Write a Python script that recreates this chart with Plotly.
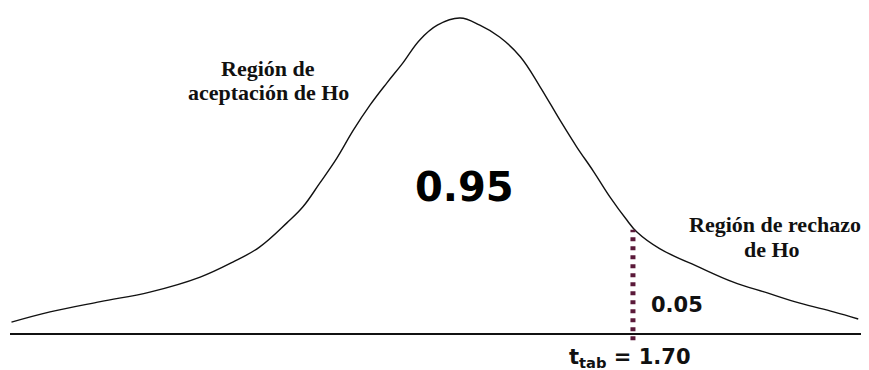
import plotly.graph_objects as go

# curve: t value and height of the density
t_vals = [-4.59, -4.20, -3.69, -3.19, -2.68, -2.35, -2.08, -1.80, -1.64, -1.47,
          -1.30, -1.13, -0.96, -0.79, -0.63, -0.46, -0.28, -0.05, 0.15, 0.35,
          0.56, 0.76, 0.96, 1.13, 1.30, 1.47, 1.64, 1.74, 1.97, 2.38,
          2.71, 3.06, 3.39, 3.73, 3.98]
dens = [0.015, 0.028, 0.041, 0.053, 0.072, 0.091, 0.110, 0.141, 0.161, 0.191,
        0.222, 0.258, 0.290, 0.318, 0.343, 0.372, 0.391, 0.400, 0.391, 0.376,
        0.351, 0.313, 0.271, 0.237, 0.206, 0.173, 0.144, 0.129, 0.108, 0.084,
        0.066, 0.052, 0.039, 0.028, 0.019]

t_crit = 1.70
d_crit = 0.132          # curve height at t_crit
alpha = 0.05
conf = 0.95

dark = '#111111'
maroon = '#5b1a3a'
serif = 'Liberation Serif'
sans = 'DejaVu Sans'


def make_fig():
    fig = go.Figure()
    fig.add_trace(go.Scatter(x=t_vals, y=dens, mode='lines',
                             line={'color': dark, 'width': 1.4, 'shape': 'spline', 'smoothing': 1.1},
                             hoverinfo='skip', showlegend=False))
    # critical value
    fig.add_trace(go.Scatter(x=[t_crit, t_crit], y=[-0.008, d_crit], mode='lines',
                             line={'color': maroon, 'width': 5, 'dash': '4px,5px'},
                             hoverinfo='skip', showlegend=False))

    notes = [
        dict(x=-1.99, y=0.336, text='<b>Región de</b>', font={'family': serif, 'size': 22, 'color': dark}),
        dict(x=-1.99, y=0.306, text='<b>aceptación de Ho</b>', font={'family': serif, 'size': 22, 'color': dark}),
        dict(x=3.14, y=0.139, text='<b>Región de rechazo</b>', font={'family': serif, 'size': 22, 'color': dark}),
        dict(x=3.11, y=0.107, text='<b>de Ho</b>', font={'family': serif, 'size': 22, 'color': dark}),
        dict(x=0.0, y=0.186, text='<b>%.2f</b>' % conf, font={'family': sans, 'size': 40, 'color': '#000'}),
        dict(x=1.86, y=0.037, text='<b>%.2f</b>' % alpha, xanchor='left',
             font={'family': sans, 'size': 21, 'color': dark}),
        dict(x=1.67, y=-0.011, text='<b>t<sub>tab</sub> = %.2f</b>' % t_crit, yanchor='top',
             font={'family': sans, 'size': 21, 'color': dark}),
    ]
    for n in notes:
        n.setdefault('xanchor', 'center')
        n.setdefault('yanchor', 'middle')
        fig.add_annotation(showarrow=False, **n)

    # the page body has an 8px margin, so the ranges are set off by that much
    fig.update_layout(
        width=869, height=370,
        margin={'l': 2, 'r': 0, 't': 0, 'b': 0},
        paper_bgcolor='white', plot_bgcolor='white',
        xaxis={'range': [-4.605, 4.170], 'visible': False, 'fixedrange': True},
        yaxis={'range': [-0.0557, 0.4127], 'showgrid': False, 'showticklabels': False,
               'zeroline': True, 'zerolinecolor': dark, 'zerolinewidth': 1.8,
               'showline': False, 'fixedrange': True},
    )
    return fig


def main():
    fig = make_fig()
    fig.write_html('out.html')


if __name__ == '__main__':
    main()
